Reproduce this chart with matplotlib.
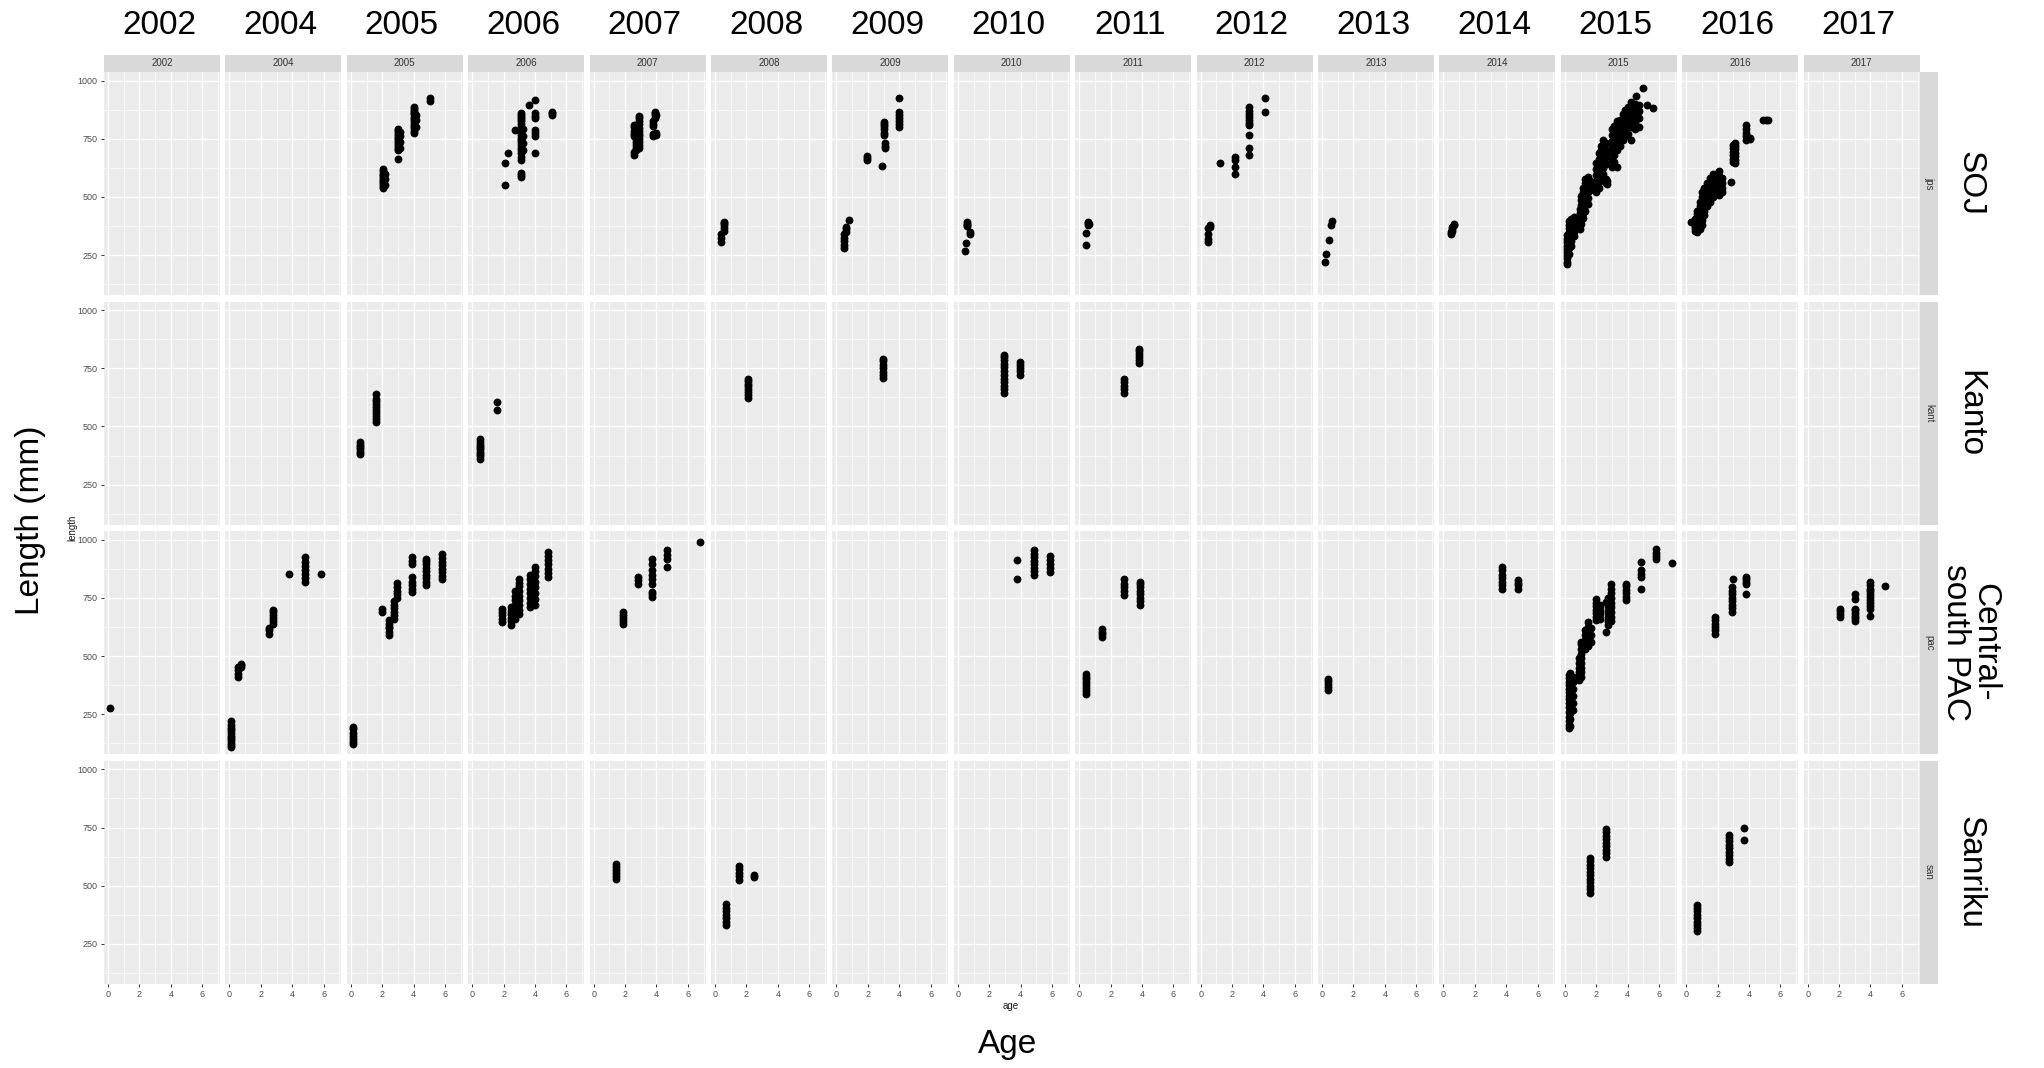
import matplotlib
matplotlib.use("Agg")
import matplotlib.pyplot as plt

plt.rcParams["font.family"] = ["Liberation Sans", "DejaVu Sans"]

## Donnees
years = ["2002", "2004", "2005", "2006", "2007", "2008", "2009", "2010",
         "2011", "2012", "2013", "2014", "2015", "2016", "2017"]
regions = ["jps", "kant", "pac", "san"]
region_names = ["SOJ", "Kanto", "Central-\nsouth PAC", "Sanriku"]

# each group is (age, [lengths in mm])
jps_2005 = [(2.05, [540, 548, 556, 562, 570, 578, 585, 592, 600, 610, 618]),
            (2.15, [552, 575, 598]),
            (3.0, [663, 700, 708, 715, 722, 730, 740, 748, 755, 762, 770, 778, 786, 792]),
            (3.1, [712, 735, 760, 780]),
            (4.05, [776, 785, 795, 805, 815, 825, 835, 845, 855, 862, 870, 878, 886]),
            (4.15, [800, 830, 850]),
            (5.05, [912, 926])]
jps_2006 = [(2.1, [551, 645]), (2.25, [690]), (2.7, [788]),
            (3.1, [585, 592, 603, 659, 672, 690, 700, 712, 722, 735, 745, 755, 768,
                   778, 790, 800, 812, 825, 835, 845, 852, 860]),
            (3.2, [700, 730, 760, 790]),
            (3.6, [895]),
            (4.0, [917, 860, 848, 840, 788, 775, 760, 690]),
            (5.1, [852, 860, 866])]
jps_2007 = [(2.55, [680, 695, 760, 772, 785, 800, 808]),
            (2.7, [700, 712, 722, 735, 748, 760, 770, 782, 795]),
            (2.9, [710, 722, 735, 748, 760, 772, 785, 798, 812, 825, 838, 848]),
            (3.75, [805, 815, 828]),
            (3.8, [762, 770]),
            (3.9, [840, 852, 862, 866]),
            (4.0, [765, 775, 850])]
jps_2008 = [(0.4, [305, 325, 340]), (0.55, [355, 368, 378, 388, 392])]
jps_2009 = [(0.45, [280, 295, 310, 325, 340]), (0.6, [350, 362, 372]), (0.8, [400]),
            (1.95, [660, 668, 675]), (2.9, [633]),
            (3.0, [766, 775, 790, 805, 815, 822]), (3.1, [710, 720, 730]),
            (4.0, [800, 812, 825, 840, 852, 865, 925])]
jps_2010 = [(0.45, [267]), (0.5, [302]), (0.55, [375, 385]), (0.6, [392, 380]),
            (0.8, [340, 348])]
jps_2011 = [(0.45, [293, 345]), (0.55, [380, 388, 393]), (0.65, [385])]
jps_2012 = [(0.45, [305, 318, 340, 365]), (0.6, [372, 378]), (1.25, [646]),
            (2.2, [598, 629, 660, 672]),
            (3.1, [680, 710, 766, 809, 818, 830, 845, 858, 870, 886]),
            (4.1, [865, 925])]
jps_2013 = [(0.2, [220]), (0.25, [254]), (0.45, [315]), (0.55, [380]), (0.65, [398])]
jps_2014 = [(0.45, [340, 348]), (0.55, [355, 362, 370]), (0.65, [378, 385])]
jps_2015 = [(0.15, [210, 222, 235, 248, 262, 275, 290, 305, 320, 338]),
            (0.25, [255, 280, 300, 318, 335, 350, 365, 380, 395]),
            (0.4, [290, 310, 330, 345, 362, 378, 392, 405]),
            (0.55, [330, 350, 372, 395, 412]),
            (0.95, [360, 378, 395, 412, 430, 448]),
            (1.05, [385, 405, 425, 445, 465, 485, 505]),
            (1.15, [410, 430, 452, 475, 498, 520, 540]),
            (1.3, [440, 465, 490, 515, 540, 560, 578]),
            (1.45, [470, 495, 520, 545, 568, 585]),
            (1.6, [530, 550, 570]),
            (2.0, [520, 545, 570, 595, 620, 645]),
            (2.15, [540, 565, 590, 615, 640, 665, 690]),
            (2.3, [575, 600, 625, 650, 675, 700, 720]),
            (2.45, [600, 625, 650, 675, 700, 725, 746]),
            (2.6, [560, 575, 640, 670, 700, 730]),
            (2.7, [555, 570, 690]),
            (3.0, [630, 660, 690, 715, 740, 765, 790]),
            (3.15, [650, 680, 705, 730, 755, 780, 805]),
            (3.3, [629, 700, 725, 750, 775, 800, 825]),
            (3.5, [720, 745, 770, 795, 815, 831]),
            (3.7, [745, 770, 795, 815, 835, 855]),
            (3.85, [760, 785, 808, 830, 850, 874]),
            (4.0, [770, 800, 825, 845, 865, 885]),
            (4.2, [745, 800, 830, 855, 880, 908]),
            (4.45, [790, 820, 850, 875, 900]),
            (4.5, [934]),
            (4.7, [800, 840, 870, 895]),
            (5.0, [968]), (5.2, [895]), (5.6, [882])]
jps_2016 = [(0.3, [392]),
            (0.55, [355, 365, 375, 385, 395, 405]),
            (0.7, [350, 360, 372, 385, 398, 412, 425, 440]),
            (0.85, [360, 375, 390, 405, 420, 440, 460, 480]),
            (1.0, [380, 400, 420, 440, 460, 480, 500, 520]),
            (1.15, [420, 440, 460, 480, 500, 520, 540]),
            (1.3, [460, 480, 500, 520, 540, 560]),
            (1.5, [480, 500, 520, 540, 560, 580]),
            (1.7, [500, 520, 540, 560, 580, 600]),
            (1.9, [520, 540, 560, 580, 600]),
            (2.1, [510, 530, 550, 570, 590, 610]),
            (2.3, [520, 540, 560, 580]),
            (2.85, [564]),
            (2.95, [650, 665, 680, 695, 710, 725]),
            (3.1, [645, 660, 675, 690, 705, 720, 731]),
            (3.8, [745, 760, 775, 790, 810]),
            (4.05, [749, 752]),
            (4.9, [831]), (5.05, [831]), (5.2, [831])]

kant_2005 = [(0.6, [380, 392, 402, 412, 422, 432]),
             (1.6, [520, 532, 545, 558, 570, 582, 595, 608, 620, 640])]
kant_2006 = [(0.5, [362, 372, 382, 392, 402, 412, 422, 435, 444]), (1.6, [572, 607])]
kant_2008 = [(2.1, [624, 635, 648, 660, 672, 684, 695, 706])]
kant_2009 = [(2.95, [710, 722, 735, 750, 765, 780, 792])]
kant_2010 = [(2.95, [646, 660, 675, 690, 702, 723, 740, 755, 770, 785, 800, 809]),
             (3.95, [723, 738, 752, 766, 779])]
kant_2011 = [(2.85, [646, 660, 675, 690, 702]), (3.8, [775, 788, 800, 812, 825, 835])]

pac_2002 = [(0.15, [278])]
pac_2004 = [(0.1, [108, 118, 128, 138, 148, 158, 168, 180, 192, 205, 219]),
            (0.55, [412, 425, 440, 452]), (0.75, [455, 462, 468]),
            (2.5, [597, 610, 619]), (2.75, [638, 650, 662, 675, 688, 699]),
            (3.8, [854]), (4.8, [818, 835, 852, 870, 888, 905, 926]), (5.8, [854])]
pac_2005 = [(0.15, [120, 132, 145, 158, 170, 185, 197]),
            (2.0, [690, 704]),
            (2.45, [591, 605, 619, 625, 640, 656]),
            (2.75, [660, 675, 690, 705, 720, 735]),
            (2.95, [750, 765, 780, 795, 814]),
            (3.9, [775, 790, 805, 820, 840, 896, 910, 926]),
            (4.8, [806, 820, 835, 850, 865, 880, 895, 908, 917]),
            (5.8, [831, 845, 860, 875, 890, 905, 920, 938])]
pac_2006 = [(1.9, [647, 660, 675, 690, 703]),
            (2.45, [634, 650, 665, 680, 695, 710]),
            (2.7, [660, 680, 700, 720, 740, 760, 780]),
            (3.0, [680, 700, 720, 740, 760, 780, 800, 815, 831]),
            (3.7, [711, 730, 750, 770, 790, 810, 830, 850]),
            (4.0, [720, 745, 770, 795, 820, 845, 865, 883]),
            (4.8, [840, 858, 876, 894, 912, 930, 947])]
pac_2007 = [(1.85, [638, 650, 662, 676, 690]), (2.85, [810, 825, 840]),
            (3.7, [754, 765, 776, 810, 830, 850, 870, 895, 917]),
            (4.7, [883, 917, 935, 955]), (6.75, [990])]
pac_2010 = [(3.75, [831, 912]),
            (4.85, [848, 865, 880, 895, 910, 925, 940, 956]),
            (5.85, [861, 878, 895, 912, 930])]
pac_2011 = [(0.45, [338, 350, 362, 375, 388, 400, 412, 424]),
            (1.45, [583, 595, 605, 617]),
            (2.85, [763, 778, 795, 812, 831]),
            (3.9, [720, 735, 750, 765, 780, 795, 808, 818])]
pac_2013 = [(0.4, [356, 368, 380, 392, 403])]
pac_2014 = [(3.7, [789, 805, 820, 835, 850, 868, 883]), (4.75, [789, 805, 815, 827])]
pac_2015 = [(0.25, [190, 205, 220, 240, 260, 280, 300, 315, 330, 345, 360, 375, 390, 405, 420]),
            (0.35, [200, 230, 255, 275, 295, 310, 325, 340, 355, 370, 385, 400, 415, 427]),
            (0.5, [270, 300, 330, 360, 390, 410]),
            (0.9, [398, 415, 432, 450, 470, 490]),
            (1.05, [410, 430, 450, 470, 490, 510, 530, 550, 561]),
            (1.3, [531, 550, 570, 590, 610]),
            (1.5, [545, 565, 585, 605, 625, 647]),
            (1.65, [560, 590, 620]),
            (2.0, [655, 670, 685, 700, 715, 730, 745]),
            (2.25, [660, 680, 700, 720]),
            (2.6, [604, 733]),
            (2.75, [634, 650, 670, 690, 710, 730, 750]),
            (2.95, [650, 670, 690, 710, 730, 750, 770, 790, 810]),
            (3.9, [741, 755, 770, 785, 800, 810]),
            (4.85, [788, 840, 855, 870, 904]),
            (5.8, [917, 930, 945, 960]),
            (6.8, [900])]
pac_2016 = [(1.85, [596, 610, 625, 640, 655, 668]),
            (2.9, [690, 705, 720, 735, 750, 765, 780, 795]),
            (3.0, [831]),
            (3.8, [767, 810, 820, 830, 840])]
pac_2017 = [(2.05, [668, 680, 692, 703]),
            (3.0, [651, 662, 674, 686, 698, 703, 745, 767]),
            (3.95, [673, 703, 715, 728, 740, 752, 765, 778, 790, 805, 819]),
            (4.95, [801])]

san_2007 = [(1.45, [530, 543, 556, 569, 582, 595])]
san_2008 = [(0.7, [330, 345, 360, 375, 390, 405, 420]),
            (1.55, [525, 540, 555, 570, 585]), (2.5, [536, 544])]
san_2015 = [(1.6, [470, 485, 500, 515, 530, 545, 560, 575, 590, 605, 618]),
            (2.6, [625, 640, 655, 670, 685, 700, 715, 730, 742])]
san_2016 = [(0.66, [305, 318, 330, 345, 360, 375, 390, 405, 418]),
            (2.7, [600, 615, 630, 645, 660, 675, 690, 705, 718]),
            (3.7, [698, 746])]

panels = {
    ("jps", "2005"): jps_2005, ("jps", "2006"): jps_2006, ("jps", "2007"): jps_2007,
    ("jps", "2008"): jps_2008, ("jps", "2009"): jps_2009, ("jps", "2010"): jps_2010,
    ("jps", "2011"): jps_2011, ("jps", "2012"): jps_2012, ("jps", "2013"): jps_2013,
    ("jps", "2014"): jps_2014, ("jps", "2015"): jps_2015, ("jps", "2016"): jps_2016,
    ("kant", "2005"): kant_2005, ("kant", "2006"): kant_2006, ("kant", "2008"): kant_2008,
    ("kant", "2009"): kant_2009, ("kant", "2010"): kant_2010, ("kant", "2011"): kant_2011,
    ("pac", "2002"): pac_2002, ("pac", "2004"): pac_2004, ("pac", "2005"): pac_2005,
    ("pac", "2006"): pac_2006, ("pac", "2007"): pac_2007, ("pac", "2010"): pac_2010,
    ("pac", "2011"): pac_2011, ("pac", "2013"): pac_2013, ("pac", "2014"): pac_2014,
    ("pac", "2015"): pac_2015, ("pac", "2016"): pac_2016, ("pac", "2017"): pac_2017,
    ("san", "2007"): san_2007, ("san", "2008"): san_2008, ("san", "2015"): san_2015,
    ("san", "2016"): san_2016,
}

## Mise en page (pixels)
W, H = 2044, 1068
left0, pitch_x, pw = 104, 121.4, 116
top0, pitch_y, ph = 72, 229.6, 223


def box(x0, y0, w, h):
    return [x0 / W, 1 - (y0 + h) / H, w / W, h / H]


def strip(rect, label, rot):
    st = fig.add_axes(rect)
    st.set_facecolor("#D9D9D9")
    st.set_xticks([])
    st.set_yticks([])
    for s in st.spines.values():
        s.set_visible(False)
    st.text(0.5, 0.5, label, ha="center", va="center", rotation=rot,
            fontsize=7, color="#333333", transform=st.transAxes)


fig = plt.figure(figsize=(W / 100, H / 100), dpi=100)

for r, reg in enumerate(regions):
    top = top0 + r * pitch_y
    for c, yr in enumerate(years):
        left = left0 + c * pitch_x
        ax = fig.add_axes(box(left, top, pw, ph))
        ax.set_facecolor("#EBEBEB")
        ax.set_xlim(-0.26, 7.13)
        ax.set_ylim(78, 1037)
        ax.set_xticks([0, 2, 4, 6])
        ax.set_xticks([1, 3, 5, 7], minor=True)
        ax.set_yticks([250, 500, 750, 1000])
        ax.set_yticks([125, 375, 625, 875], minor=True)
        ax.grid(which="major", color="white", linewidth=1.0)
        ax.grid(which="minor", color="white", linewidth=0.5)
        ax.set_axisbelow(True)
        for s in ax.spines.values():
            s.set_visible(False)
        ax.tick_params(which="minor", length=0)
        ax.tick_params(which="major", length=2.5, width=0.7, color="#333333",
                       labelsize=6.5, labelcolor="#4D4D4D", pad=2)
        ax.tick_params(left=(c == 0), labelleft=(c == 0),
                       bottom=(r == 3), labelbottom=(r == 3))

        groups = panels.get((reg, yr), [])
        ages = [a for a, ls in groups for _ in ls]
        lens = [l for a, ls in groups for l in ls]
        if ages:
            ax.scatter(ages, lens, s=32, c="black", linewidths=0, zorder=3)

        # bandeau du haut
        if r == 0:
            strip(box(left, 55, pw, 17), yr, 0)
            fig.text((left + pw / 2 - 3) / W, 1 - 25 / H, yr, ha="center",
                     va="center", fontsize=24)

    # bandeau de droite
    strip(box(1920, top, 18, ph), reg, -90)
    fig.text(1970 / W, 1 - (top + ph / 2) / H, region_names[r], ha="center",
             va="center", rotation=-90, fontsize=24, multialignment="center",
             linespacing=0.95)

# titres d'axes
fig.text(1011 / W, 1 - 1006 / H, "age", ha="center", va="center", fontsize=7,
         color="#1A1A1A")
fig.text(72 / W, 1 - 528 / H, "length", ha="center", va="center", fontsize=7,
         rotation=90, color="#1A1A1A")
fig.text(1008 / W, 1 - 1045 / H, "Age", ha="center", va="center", fontsize=24)
fig.text(31 / W, 1 - 520 / H, "Length (mm)", ha="center", va="center",
         fontsize=24, rotation=90)

fig.savefig("out.png", dpi=100, facecolor="white")
